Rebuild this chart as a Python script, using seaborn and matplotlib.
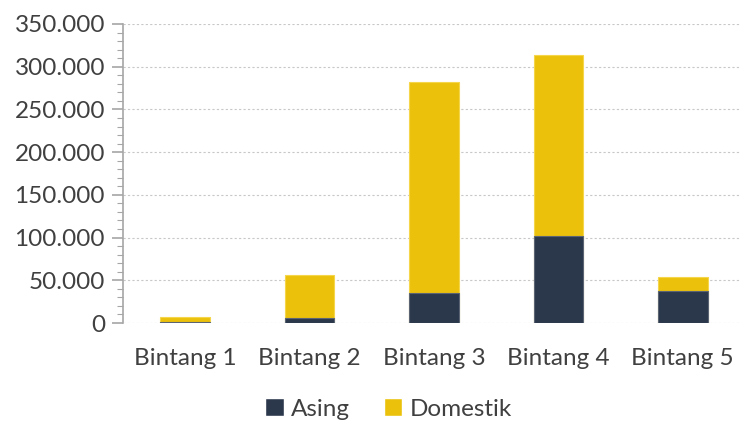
import numpy as np
import pandas as pd
import matplotlib
matplotlib.use("Agg")
import matplotlib.pyplot as plt
import seaborn as sns
from matplotlib.ticker import FuncFormatter, MultipleLocator
from matplotlib.patches import Patch

# data
kategori = ["Bintang 1", "Bintang 2", "Bintang 3", "Bintang 4", "Bintang 5"]
asing = [1500, 6000, 35500, 102000, 37500]
domestik = [5500, 50000, 246500, 212000, 16500]

warna_asing = "#2B384C"
warna_domestik = "#EBC10C"

df = pd.DataFrame({"kategori": kategori, "Asing": asing, "Domestik": domestik})
df["total"] = df["Asing"] + df["Domestik"]

sns.set_theme(style="white")
plt.rcParams["font.family"] = ["Lato", "DejaVu Sans"]

fig = plt.figure(figsize=(7.4, 4.24), dpi=100)
ax = fig.add_axes([123 / 740, 101 / 424, 622 / 740, 299 / 424])

# stacked bars: total first (yellow), then asing on top (navy)
sns.barplot(data=df, x="kategori", y="total", color=warna_domestik, width=0.4,
            edgecolor="#F5D54A", linewidth=0.8, saturation=1, ax=ax)
sns.barplot(data=df, x="kategori", y="Asing", color=warna_asing, width=0.4,
            edgecolor="#5A6472", linewidth=0.8, saturation=1, ax=ax)

ax.set_xlim(-0.5, 4.5)
ax.set_ylim(0, 350000)
ax.yaxis.set_major_locator(MultipleLocator(50000))
ax.yaxis.set_minor_locator(MultipleLocator(10000))
ax.yaxis.set_major_formatter(FuncFormatter(lambda v, p: f"{int(v):,}".replace(",", ".")))

ax.grid(axis="y", which="major", color="#C8C8C8", linestyle=(0, (2, 2)), linewidth=0.8)
ax.set_axisbelow(True)

for s in ["top", "right", "bottom"]:
    ax.spines[s].set_visible(False)
ax.spines["left"].set_color("#A6A6A6")
ax.spines["left"].set_linewidth(1.2)

ax.tick_params(axis="y", which="major", direction="out", length=8, width=1.2,
               color="#A6A6A6", labelsize=17.5, labelcolor="#404040", pad=5, left=True)
ax.tick_params(axis="y", which="minor", direction="out", length=4, width=0.8,
               color="#A6A6A6", left=True)
ax.tick_params(axis="x", length=0, labelsize=17.5, labelcolor="#404040", pad=18)

ax.set_xlabel("")
ax.set_ylabel("")

handles = [Patch(facecolor=warna_asing, label="Asing"),
           Patch(facecolor=warna_domestik, label="Domestik")]
fig.legend(handles=handles, loc="center", bbox_to_anchor=(0.525, 0.035), ncol=2,
           frameon=False, fontsize=17.5, handlelength=0.75, handleheight=0.75,
           handletextpad=0.3, columnspacing=1.4, labelcolor="#404040")

fig.savefig("out.png", dpi=100)
